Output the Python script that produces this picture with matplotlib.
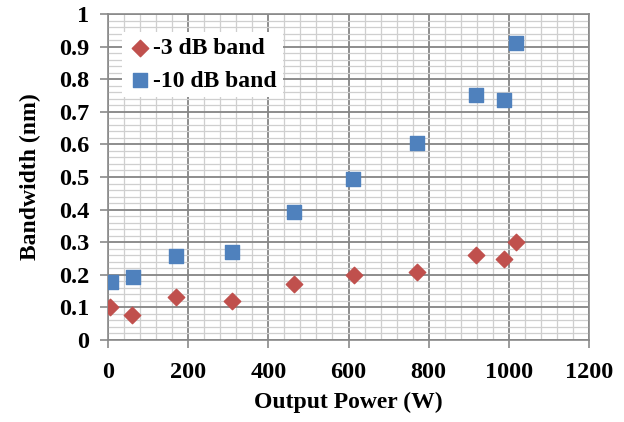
import matplotlib
matplotlib.use("Agg")
import matplotlib.pyplot as plt
from matplotlib.ticker import MultipleLocator

power_3db = [5, 61, 169, 309, 465, 613, 772, 919, 988, 1019]
bw_3db = [0.102, 0.077, 0.133, 0.12, 0.172, 0.20, 0.21, 0.26, 0.25, 0.30]
power_10db = [8, 62, 169, 309, 465, 610, 772, 919, 988, 1019]
bw_10db = [0.179, 0.192, 0.258, 0.271, 0.393, 0.495, 0.605, 0.752, 0.736, 0.91]

font = "Liberation Serif"
fig = plt.figure(figsize=(6.24, 4.22), dpi=100)
ax = fig.add_axes([108/624, 1-340/422, (589-108)/624, (340-14)/422])

ax.set_xlim(0, 1200)
ax.set_ylim(0, 1)
ax.xaxis.set_major_locator(MultipleLocator(200))
ax.xaxis.set_minor_locator(MultipleLocator(40))
ax.yaxis.set_major_locator(MultipleLocator(0.1))
ax.yaxis.set_minor_locator(MultipleLocator(0.02))
ax.grid(which="minor", color="#cfcfcf", linewidth=0.9)
ax.grid(which="major", color="#858585", linewidth=1.3)
ax.set_axisbelow(True)
for s in ax.spines.values():
    s.set_color("#8a8a8a")
    s.set_linewidth(1.2)

ax.scatter(power_3db, bw_3db, marker="D", s=70, color="#C0504D", zorder=3, label="-3 dB band")
ax.scatter(power_10db, bw_10db, marker="s", s=95, color="#4F81BD", zorder=3, label="-10 dB band")

ax.tick_params(which="minor", length=0)
ax.tick_params(which="major", length=5.5, color="#8a8a8a", width=1.2)
ax.tick_params(axis="x", pad=10)
ax.tick_params(axis="y", pad=8)
ax.set_xticks([0, 200, 400, 600, 800, 1000, 1200])
ax.set_xticklabels(["0", "200", "400", "600", "800", "1000", "1200"])
ax.set_yticks([0, 0.1, 0.2, 0.3, 0.4, 0.5, 0.6, 0.7, 0.8, 0.9, 1.0])
ax.set_yticklabels(["0", "0.1", "0.2", "0.3", "0.4", "0.5", "0.6", "0.7", "0.8", "0.9", "1"])
for lab in ax.get_xticklabels() + ax.get_yticklabels():
    lab.set_fontfamily(font)
    lab.set_fontweight("bold")
    lab.set_fontsize(17.5)

ax.set_xlabel("Output Power (W)", fontfamily=font, fontweight="bold", fontsize=17, labelpad=7)
ax.set_ylabel("Bandwidth (nm)", fontfamily=font, fontweight="bold", fontsize=17, labelpad=13)

leg = ax.legend(loc="upper left", bbox_to_anchor=(0.03, 0.945), frameon=True, fancybox=False,
                edgecolor="white", framealpha=1, handletextpad=0.05, borderpad=0.25,
                labelspacing=0.45, handlelength=1.0, borderaxespad=0,
                prop={"family": font, "weight": "bold", "size": 17})
leg.get_frame().set_linewidth(0)

fig.savefig("out.png", dpi=100)
